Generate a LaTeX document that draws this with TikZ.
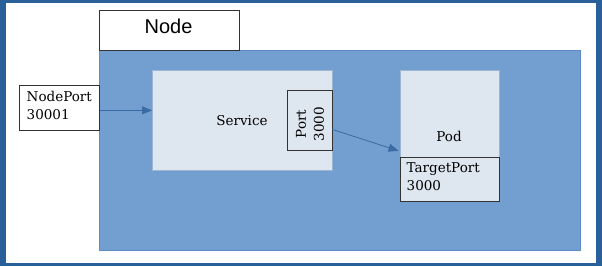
\documentclass[tikz,border=0pt]{standalone}
\usepackage{fontspec}
\setmainfont{DejaVu Serif}
\newfontfamily\labelsans{Liberation Sans}
\usetikzlibrary{arrows.meta}
\definecolor{frameblue}{HTML}{2A6099}
\definecolor{areablue}{HTML}{729FCF}
\definecolor{areaedge}{HTML}{5E8CC2}
\definecolor{paleblue}{HTML}{DEE6EF}
\definecolor{paleedge}{HTML}{9DB6D4}
\definecolor{connblue}{HTML}{3A6BA5}
\tikzset{
  x=1pt, y=-1pt,
  serifbox/.style={draw=black!80, line width=0.7pt, inner sep=0pt, anchor=north west},
  panel/.style={fill=paleblue, draw=paleedge, line width=0.7pt, inner sep=0pt, anchor=north west},
  txt/.style={font=\fontsize{13.5}{18}\selectfont, inner sep=0pt},
  conn/.style={draw=connblue, line width=0.8pt, -{Triangle[length=10pt,width=8pt]}},
}
\begin{document}
\begin{tikzpicture}
  % outer frame
  \fill[frameblue] (0,0) rectangle (602,266);
  \fill[white] (6,3) rectangle (596,262.5);
  \useasboundingbox (0,0) rectangle (602,266);

  % node area and its caption tab
  \node[anchor=north west, fill=areablue, draw=areaedge, line width=0.7pt,
        minimum width=481pt, minimum height=200pt, inner sep=0pt] (nodearea) at (99,50) {};
  \node[serifbox, fill=white, minimum width=140pt, minimum height=40pt] (nodelabel) at (99,10) {};
  \node[font=\labelsans\fontsize{20}{24}\selectfont, inner sep=0pt] (nodetext) at (168.5,26) {Node};

  % service with its port
  \node[panel, minimum width=179.5pt, minimum height=100pt] (service) at (152,70) {};
  \node[txt] (servicetext) at (242,121) {Service};
  \node[serifbox, fill=paleblue, minimum width=44.5pt, minimum height=60pt] (port) at (287,90) {};
  \node[txt, rotate=90, align=center] (porttext) at (310,124) {Port\\3000};

  % pod with its target port
  \node[panel, minimum width=99.5pt, minimum height=87pt] (pod) at (399.5,70) {};
  \node[txt] (podtext) at (449,136) {Pod};
  \node[serifbox, fill=paleblue, minimum width=99.5pt, minimum height=44pt] (targetport) at (399.5,157) {};
  \node[txt, align=left, anchor=north west] (targettext) at (406.5,162) {TargetPort\\3000};

  % node port outside the node
  \node[serifbox, fill=white, minimum width=80pt, minimum height=45pt] (nodeport) at (19,85) {};
  \node[txt, align=left, anchor=north west] (nodeporttext) at (26.5,91) {NodePort\\30001};

  % connectors
  \draw[conn] ([yshift=-2.5pt]nodeport.east) -- ([yshift=-2.5pt]nodeport.east -| service.west);
  \draw[conn] ([yshift=-9pt]port.east) -- ([yshift=-37pt,xshift=-1pt]pod.west);
\end{tikzpicture}
\end{document}
